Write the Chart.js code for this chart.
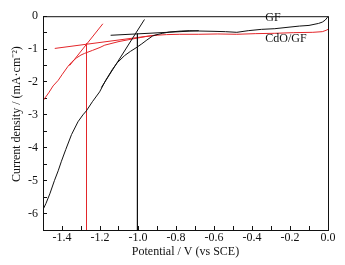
<!DOCTYPE html>
<html>
  <head>
    <meta charset="UTF-8" />
    <title>GF vs CdO/GF</title>
    <style>
      body {
        margin: 0;
        padding: 0;
        background-color: #fff;
      }
      .chart-container {
        width: 345px;
        height: 265px;
        position: relative;
      }
    </style>
  </head>
  <body>
    <div class="chart-container">
      <canvas id="lsvChart"></canvas>
    </div>

    <script src="https://cdn.jsdelivr.net/npm/chart.js"></script>
    <script>
      // GF curve
      const gfX = [-1.5, -1.485, -1.464, -1.44, -1.42, -1.403, -1.38, -1.35, -1.316, -1.29, -1.272, -1.24, -1.202, -1.17, -1.135, -1.11, -1.071, -1.04, -1.01, -0.98, -0.957, -0.923, -0.9, -0.87, -0.835, -0.77, -0.73, -0.68, -0.6, -0.54, -0.48, -0.42, -0.35, -0.28, -0.2, -0.15, -0.1, -0.05, -0.03, -0.015, -0.005, 0];
      const gfY = [-5.88, -5.7, -5.4, -5.0, -4.7, -4.41, -4.05, -3.6, -3.21, -3.0, -2.88, -2.6, -2.3, -1.95, -1.62, -1.42, -1.2, -1.07, -0.96, -0.84, -0.74, -0.6, -0.56, -0.52, -0.48, -0.45, -0.44, -0.45, -0.46, -0.47, -0.49, -0.44, -0.4, -0.38, -0.33, -0.3, -0.28, -0.22, -0.18, -0.12, -0.05, 0];

      // CdO/GF curve
      const cdoX = [-1.5, -1.47, -1.447, -1.42, -1.4, -1.368, -1.35, -1.324, -1.3, -1.281, -1.24, -1.2, -1.175, -1.1, -1.027, -0.96, -0.905, -0.85, -0.78, -0.68, -0.58, -0.48, -0.38, -0.28, -0.18, -0.08, -0.03, -0.01, 0];
      const cdoY = [-2.57, -2.33, -2.12, -1.95, -1.78, -1.52, -1.4, -1.27, -1.18, -1.13, -1.04, -0.95, -0.88, -0.77, -0.69, -0.62, -0.58, -0.56, -0.55, -0.55, -0.54, -0.55, -0.53, -0.52, -0.5, -0.49, -0.47, -0.43, -0.4];

      // tangent lines and onset markers
      const gfSteepX = [-1.193, -0.966];
      const gfSteepY = [-2.17, -0.1];
      const gfFlatX = [-1.144, -0.68];
      const gfFlatY = [-0.58, -0.44];
      const gfOnsetX = [-1.003, -1.003];
      const gfOnsetY = [-0.53, -6.5];

      const cdoSteepX = [-1.36, -1.185];
      const cdoSteepY = [-1.5, -0.23];
      const cdoFlatX = [-1.438, -0.9];
      const cdoFlatY = [-0.98, -0.57];
      const cdoOnsetX = [-1.271, -1.271];
      const cdoOnsetY = [-0.83, -6.5];

      const seriesLabels = ["GF", "CdO/GF"];
      const labelX = [-0.33, -0.33];
      const labelY = [-0.06, -0.69];

      const BLACK = "#111111";
      const RED = "#e3262a";
      const FONT = "'Liberation Serif', 'Times New Roman', serif";

      function pts(xs, ys) {
        return xs.map((x, i) => ({ x: x, y: ys[i] }));
      }

      function line(xs, ys, color) {
        return {
          data: pts(xs, ys),
          borderColor: color,
          borderWidth: 1,
          pointRadius: 0,
          showLine: true,
          fill: false,
        };
      }

      const frame = {
        id: "frame",
        afterDraw(chart) {
          const { ctx, chartArea: a } = chart;
          ctx.save();
          ctx.strokeStyle = BLACK;
          ctx.lineWidth = 1;
          ctx.strokeRect(a.left + 0.5, a.top + 0.5, a.right - a.left, a.bottom - a.top);
          ctx.restore();
        },
      };

      const seriesText = {
        id: "seriesText",
        afterDatasetsDraw(chart) {
          const { ctx, scales } = chart;
          ctx.save();
          ctx.font = "12px " + FONT;
          ctx.fillStyle = BLACK;
          ctx.textAlign = "left";
          ctx.textBaseline = "middle";
          seriesLabels.forEach((t, i) => {
            ctx.fillText(t, scales.x.getPixelForValue(labelX[i]), scales.y.getPixelForValue(labelY[i]));
          });
          ctx.restore();
        },
      };

      new Chart(document.getElementById("lsvChart"), {
        type: "scatter",
        data: {
          datasets: [
            line(gfX, gfY, BLACK),
            line(gfSteepX, gfSteepY, BLACK),
            line(gfFlatX, gfFlatY, BLACK),
            line(gfOnsetX, gfOnsetY, BLACK),
            line(cdoX, cdoY, RED),
            line(cdoSteepX, cdoSteepY, RED),
            line(cdoFlatX, cdoFlatY, RED),
            line(cdoOnsetX, cdoOnsetY, RED),
          ],
        },
        options: {
          responsive: true,
          maintainAspectRatio: false,
          animation: false,
          layout: { padding: { top: 12, right: 17, bottom: 0, left: 0 } },
          plugins: { legend: { display: false }, tooltip: { enabled: false } },
          scales: {
            x: {
              type: "linear",
              min: -1.5,
              max: 0,
              afterFit(s) { s.height = 35; },
              border: { display: true, color: BLACK, width: 1 },
              grid: { drawOnChartArea: false, drawTicks: true, tickLength: -4, color: BLACK },
              ticks: {
                stepSize: 0.1,
                autoSkip: false,
                maxRotation: 0,
                padding: 5,
                color: BLACK,
                font: { family: FONT, size: 12 },
                callback: (v) => (Math.round(v * 10) % 2 === 0 ? v.toFixed(1) : ""),
              },
              title: {
                display: true,
                text: "Potential / V (vs SCE)",
                color: BLACK,
                font: { family: FONT, size: 12 },
                padding: { top: 6, bottom: 6 },
              },
            },
            y: {
              type: "linear",
              min: -6.5,
              max: 0,
              afterFit(s) { s.width = 43; },
              border: { display: true, color: BLACK, width: 1 },
              grid: { drawOnChartArea: false, drawTicks: true, tickLength: -4, color: BLACK },
              ticks: {
                stepSize: 0.5,
                autoSkip: false,
                padding: 9,
                color: BLACK,
                font: { family: FONT, size: 12 },
                callback: (v) => (Math.abs(v - Math.round(v)) < 1e-6 ? String(Math.round(v)) : ""),
              },
              title: {
                display: true,
                text: "\u00a0\u00a0\u00a0\u00a0\u00a0\u00a0Current density / (mA\u00b7cm\u207b\u00b2)",
                color: BLACK,
                font: { family: FONT, size: 12 },
                padding: { top: 10, bottom: 10 },
              },
            },
          },
        },
        plugins: [frame, seriesText],
      });
    </script>
  </body>
</html>
